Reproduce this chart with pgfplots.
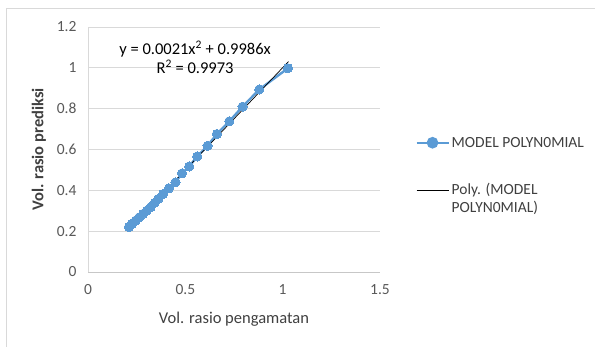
\documentclass[border=0pt]{standalone}
\usepackage{pgfplots}
\pgfplotsset{compat=1.18}
\usepackage{fontspec}
\setmainfont{Carlito}
\definecolor{serblue}{HTML}{5B9BD5}
\definecolor{gridgray}{HTML}{D9D9D9}
\definecolor{ticktext}{HTML}{595959}
\definecolor{labtext}{HTML}{404040}
\begin{document}
\begin{tikzpicture}[x=1pt,y=1pt]
\useasboundingbox (0,0) rectangle (595,347);
\draw[color=gridgray, line width=0.8pt] (6,-10) rectangle (610,339);
\begin{axis}[
  at={(88pt,75pt)}, anchor=south west,
  scale only axis, width=292pt, height=245pt,
  xmin=0, xmax=1.5, ymin=0, ymax=1.2,
  xtick={0,0.5,1,1.5}, ytick={0,0.2,0.4,0.6,0.8,1,1.2},
  xticklabels={0,0.5,1,1.5}, yticklabels={0,0.2,0.4,0.6,0.8,1,1.2},
  major tick length=0pt,
  axis x line*=bottom, axis y line*=left,
  axis line style={-, color=gridgray, line width=0.8pt},
  x axis line style={color=gridgray!80!gray},
  ymajorgrids, grid style={color=gridgray, line width=0.8pt},
  ticklabel style={font=\fontsize{15.5}{17}\selectfont, text=ticktext},
  yticklabel style={xshift=-8pt},
  xticklabel style={yshift=-9pt},
  xlabel={Vol. rasio pengamatan},
  ylabel={\bfseries Vol. rasio prediksi},
  label style={font=\fontsize{16.5}{18}\selectfont, text=labtext},
  xlabel style={yshift=-10pt},
  ylabel style={yshift=4pt},
  clip=false,
  legend style={at={(rel axis cs:1.11,0.43)}, anchor=west, draw=none, fill=none,
    font=\fontsize{15.5}{18}\selectfont, text=labtext, row sep=31pt,
    legend cell align=left},
]
\addplot[color=serblue, line width=2.4pt, mark=*, mark size=4.6pt,
  mark options={fill=serblue, draw=serblue, line width=0pt},
  legend image code/.code={
    \draw[serblue, line width=2.4pt] (0pt,0pt) -- (32pt,0pt);
    \fill[serblue] (16pt,0pt) circle (4.6pt);}]
coordinates {
(0.210,0.220) (0.225,0.236) (0.245,0.252) (0.264,0.268) (0.283,0.285)
(0.303,0.301) (0.322,0.317) (0.342,0.338) (0.361,0.358) (0.386,0.382)
(0.416,0.410) (0.449,0.439) (0.483,0.483) (0.520,0.517) (0.561,0.566)
(0.614,0.618) (0.662,0.676) (0.726,0.738) (0.794,0.810) (0.880,0.894)
(1.027,0.998)
};
\addlegendentry{MODEL POLYN0MIAL}
\addplot[color=black, line width=0.7pt,
  legend image code/.code={\draw[black, line width=0.7pt] (0pt,0pt) -- (32pt,0pt);}]
coordinates {
(0.21,0.2098) (0.4,0.3998) (0.6,0.5999) (0.8,0.8002) (1.03,1.0308)
};
\addlegendentry{\parbox[t]{140pt}{Poly. (MODEL\\POLYN0MIAL)}}
\node[align=center, font=\fontsize{16.5}{19}\selectfont, text=black]
  at (axis cs:0.55,1.053) {y = 0.0021x\textsuperscript{2} + 0.9986x\\R\textsuperscript{2} = 0.9973};
\end{axis}
\end{tikzpicture}
\end{document}
